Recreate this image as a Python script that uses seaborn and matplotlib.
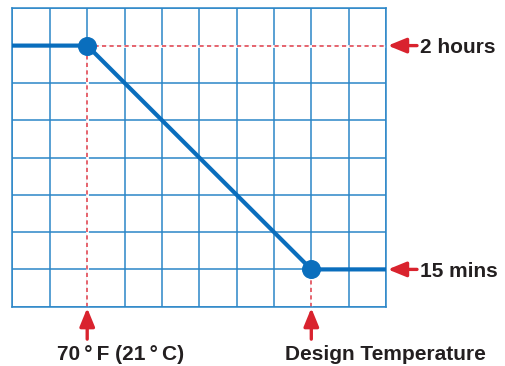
import numpy as np
import pandas as pd
import matplotlib
matplotlib.use("Agg")
import matplotlib.pyplot as plt
import seaborn as sns

# curve: hold time vs temperature (grid units)
x_points = [0, 2, 8, 10]
y_points = [7, 7, 1, 1]
marker_idx = [1, 2]
right_labels = ["2 hours", "15 mins"]
bottom_labels = ["70\u2009°\u2009F (21\u2009°\u2009C)", "Design Temperature"]

blue = "#0a6ebd"
grid_blue = "#2b86c8"
red = "#d9232e"
dash_red = "#e34a55"

sns.set_style("white")
plt.rcParams["font.family"] = ["Liberation Sans", "DejaVu Sans"]

fig = plt.figure(figsize=(5.06, 3.66), dpi=100)
ax = fig.add_axes([12.5 / 506, 1 - 306.7 / 366, 373.5 / 506, 298.4 / 366])
ax.set_axisbelow(True)

df = pd.DataFrame({"x": x_points, "y": y_points})
pts = df.iloc[marker_idx]

# red guide lines from the two points (white underneath hides the grid line)
x1, y1 = pts.iloc[0]["x"], pts.iloc[0]["y"]
x2, y2 = pts.iloc[1]["x"], pts.iloc[1]["y"]
dash = (0, (2.5, 2))
guides = [([x1, 10], [y1, y1]), ([x1, x1], [0, y1]), ([x2, x2], [0, y2])]
for gx, gy in guides:
    ax.plot(gx, gy, color="white", lw=2.0, zorder=2, solid_capstyle="butt")
    ax.plot(gx, gy, color=dash_red, lw=1.2, ls=dash, zorder=2.5)

sns.lineplot(data=df, x="x", y="y", color=blue, lw=3, ax=ax, zorder=3)
sns.scatterplot(data=pts, x="x", y="y", color=blue, s=160, edgecolor=blue, ax=ax, zorder=4)

ax.set_xlim(0, 10)
ax.set_ylim(0, 8)
ax.set_xticks(np.arange(0, 11, 1))
ax.set_yticks(np.arange(0, 9, 1))
ax.grid(True, color=grid_blue, lw=1.1, zorder=1)
ax.tick_params(left=False, bottom=False, labelleft=False, labelbottom=False)
ax.set_xlabel("")
ax.set_ylabel("")
for s in ax.spines.values():
    s.set_color(grid_blue)
    s.set_linewidth(1.1)
    s.set_zorder(2.8)

arrow = dict(arrowstyle="-|>,head_length=1.1,head_width=0.45", color=red, lw=2.4,
             shrinkA=0, shrinkB=0)

# right side labels
for yv, lab in zip([y1, y2], right_labels):
    ax.annotate("", xy=(10.05, yv), xytext=(10.83, yv), arrowprops=arrow, annotation_clip=False)
    ax.text(10.91, yv - 0.05, lab, ha="left", va="center", fontsize=15, fontweight="bold",
            color="#231f20", clip_on=False)

# bottom labels
for xv, lab, tx in zip([x1, x2], bottom_labels, [1.19, 7.3]):
    ax.annotate("", xy=(xv, -0.035), xytext=(xv, -0.87), arrowprops=arrow, annotation_clip=False)
    ax.text(tx, -1.27, lab, ha="left", va="center", fontsize=15, fontweight="bold",
            color="#231f20", clip_on=False)

plt.savefig("out.png", dpi=100)
